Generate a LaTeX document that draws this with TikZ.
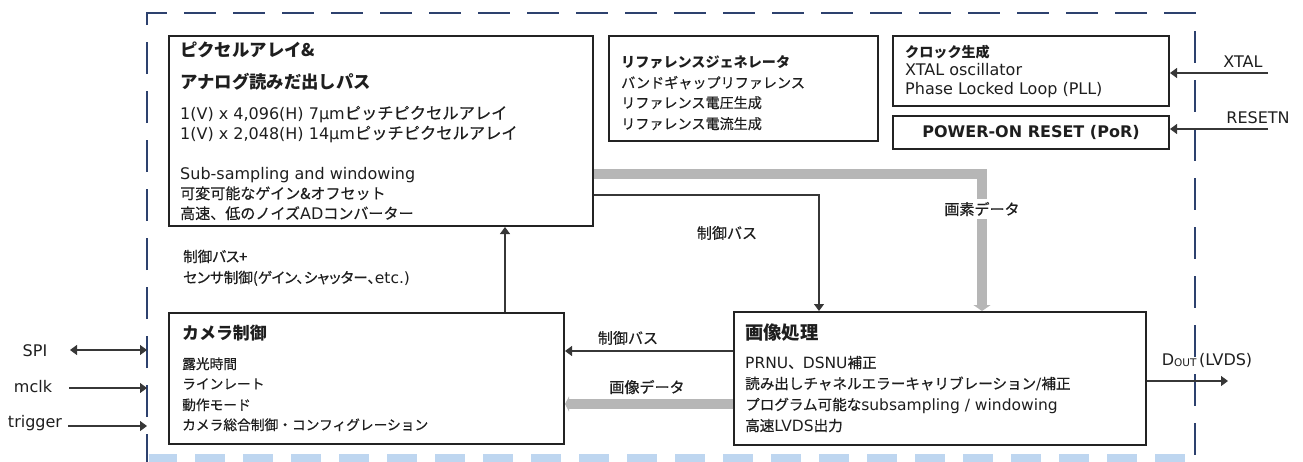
\documentclass[tikz,border=0pt]{standalone}
\usepackage{fontspec}
\setmainfont{DejaVu Sans}
\newfontfamily\jpf[Scale=0.94, UprightFeatures={FakeBold=0.5}]{Noto Sans CJK JP}
\newfontfamily\jpp[Scale=0.94, RawFeature=+palt, UprightFeatures={FakeBold=0.5}]{Noto Sans CJK JP}
\usetikzlibrary{arrows.meta}
\newcommand\J[1]{{\jpf #1}}
\newcommand\JP[1]{{\jpp #1}}
\definecolor{navy}{RGB}{45,65,110}
\definecolor{lblue}{RGB}{190,214,240}
\definecolor{gbar}{RGB}{182,182,182}
\definecolor{boxc}{RGB}{35,35,35}
\definecolor{connc}{RGB}{55,55,55}
\definecolor{txtc}{RGB}{30,30,30}
\newcommand\fs[1]{\fontsize{#1}{#1}\selectfont}
\newcommand\JL[1]{{\jpf\fs{17.3}#1}}
\tikzset{
  box/.style={draw=boxc, line width=2pt, inner sep=0pt, anchor=north west},
  txt/.style={anchor=base west, inner sep=0pt, text=txtc, font=\fs{16}},
  ttl/.style={anchor=base west, inner sep=0pt, text=txtc, font=\fs{15}\bfseries},
  lbl/.style={inner sep=0pt, text=txtc, font=\fs{16}},
  conn/.style={draw=connc, line width=1.2pt, -{Triangle[length=7pt,width=10pt]}},
  both/.style={draw=connc, line width=1.2pt, {Triangle[length=7pt,width=10pt]}-{Triangle[length=7pt,width=10pt]}},
  gpath/.style={draw=gbar, line width=10pt, line join=miter, -{Triangle[length=6pt,width=17pt]}},
}
\begin{document}
\begin{tikzpicture}[x=1pt,y=-1pt]
\useasboundingbox (0,0) rectangle (1303,461);
\clip (0,0) rectangle (1303,461);
% outer dashed frame
\draw[navy, line width=2.4pt, dash pattern=on 32pt off 17pt, dash phase=45pt]
  (147,470) -- (147,13) -- (1195,13) -- (1195,470);
\draw[lblue, line width=9pt, dash pattern=on 30pt off 18pt, dash phase=2pt]
  (149,458) -- (1193,458);

% boxes
\node[box, minimum width=424pt, minimum height=190pt] (pix) at (168,35) {};
\node[box, minimum width=269pt, minimum height=105pt] (ref) at (608,35) {};
\node[box, minimum width=276pt, minimum height=70pt] (clk) at (892,35) {};
\node[box, minimum width=276pt, minimum height=33pt, font=\fs{16}\bfseries, text=txtc] (por) at (892,115) {POWER-ON RESET (PoR)};
\node[box, minimum width=395pt, minimum height=131pt] (cam) at (168,312) {};
\node[box, minimum width=412pt, minimum height=133pt] (proc) at (733,311) {};

% pixel array text
\node[ttl, font=\fs{18.5}\bfseries] (p1) at (180,56) {\J{ピクセルアレイ\&}};
\node[ttl, font=\fs{18.5}\bfseries] (p2) at (180,88) {\J{アナログ読みだ出しパス}};
\node[txt] (p3) at (180,119) {1(V) x 4,096(H) 7μm\JL{ピッチピクセルアレイ}};
\node[txt] (p4) at (180,139) {1(V) x 2,048(H) 14μm\JL{ピッチピクセルアレイ}};
\node[txt] (p5) at (180,179) {Sub-sampling and windowing};
\node[txt] (p6) at (180,199) {\J{可変可能なゲイン\&オフセット}};
\node[txt] (p7) at (180,219) {\J{高速、低のノイズ}AD\J{コンバーター}};

% reference generator text
\node[ttl] (r1) at (621,67) {\J{リファレンスジェネレータ}};
\node[txt, font=\fs{15}] (r2) at (621,88) {\J{バンドギャップリファレンス}};
\node[txt, font=\fs{15}] (r3) at (621,108) {\J{リファレンス電圧生成}};
\node[txt, font=\fs{15}] (r4) at (621,129) {\J{リファレンス電流生成}};

% clock text
\node[ttl] (k1) at (905,57) {\J{クロック生成}};
\node[txt] (k2) at (905,75) {XTAL oscillator};
\node[txt] (k3) at (905,94) {Phase Locked Loop (PLL)};

% camera control text
\node[ttl, font=\fs{18}\bfseries] (c1) at (182,339) {\J{カメラ制御}};
\node[txt, font=\fs{14.6}] (c2) at (182,369) {\J{露光時間}};
\node[txt, font=\fs{14.6}] (c3) at (182,389) {\J{ラインレート}};
\node[txt, font=\fs{14.6}] (c4) at (182,410) {\J{動作モード}};
\node[txt, font=\fs{14.6}] (c5) at (182,430) {\J{カメラ総合制御・コンフィグレーション}};

% image processing text
\node[ttl, font=\fs{19.5}\bfseries] (i1) at (745,339) {\J{画像処理}};
\node[txt, font=\fs{15.5}] (i2) at (745,368) {PRNU\J{、}DSNU\J{補正}};
\node[txt, font=\fs{15.5}] (i3) at (745,389) {\J{読み出しチャネルエラーキャリブレーション}/\J{補正}};
\node[txt, font=\fs{15.5}] (i4) at (745,410) {\J{プログラム可能な}subsampling / windowing};
\node[txt, font=\fs{15.5}] (i5) at (745,431) {\J{高速}LVDS\J{出力}};

% coordinates
\coordinate (up) at (505,0);
\coordinate (cb) at (819,195);
\coordinate (pd) at (982,174);
\coordinate (cb2) at (0,351);
\coordinate (idat) at (0,404);
\coordinate (bl) at (147,0);
\coordinate (spiL) at (70,350);
\coordinate (mclkL) at (69,388);
\coordinate (trigL) at (68,426);
\coordinate (xtalR) at (1268,73);
\coordinate (rstR) at (1268,129);
\coordinate (dout) at (1228,381);

% connectors
\draw[conn] (cam.north -| up) -- (pix.south -| up);
\draw[conn] (pix.east |- cb) -- (cb) -- (proc.north -| cb);
\draw[gpath] (pix.east |- pd) -- (pd) -- (proc.north -| pd);
\draw[conn] (proc.west |- cb2) -- (cam.east |- cb2);
\draw[gpath, -{Triangle[length=4pt,width=15pt]}] (proc.west |- idat) -- (cam.east |- idat);
\draw[both] (spiL) -- (spiL -| bl);
\draw[conn] (mclkL) -- (mclkL -| bl);
\draw[conn] (trigL) -- (trigL -| bl);
\draw[conn] (xtalR) -- (clk.east |- xtalR);
\draw[conn] (rstR) -- (por.east |- rstR);
\draw[conn] (proc.east |- dout) -- (dout);

% labels
\node[lbl, anchor=base west, font=\fs{15.5}] (l1) at (183,262) {\JP{制御バス+}};
\node[lbl, anchor=base west, font=\fs{15.5}] (l2) at (183,283) {\JP{センサ制御(ゲイン、シャッター、}etc.)};
\node[lbl] (l3) at (727,233) {\J{制御バス}};
\node[lbl, fill=white, inner sep=3pt] (l4) at (982,209) {\J{画素データ}};
\node[lbl] (l5) at (628,338) {\J{制御バス}};
\node[lbl] (l6) at (647,387) {\J{画像データ}};
\node[lbl] (l7) at (1243,62) {XTAL};
\node[lbl] (l8) at (1258,118) {RESETN};
\node[lbl] (l9) at (35,351) {SPI};
\node[lbl] (l10) at (33,387) {mclk};
\node[lbl] (l11) at (35,423) {trigger};
\node[lbl] (l12) at (1207,360) {D\raisebox{-1.5pt}{\fs{10.5}OUT}\,(LVDS)};
\end{tikzpicture}
\end{document}
